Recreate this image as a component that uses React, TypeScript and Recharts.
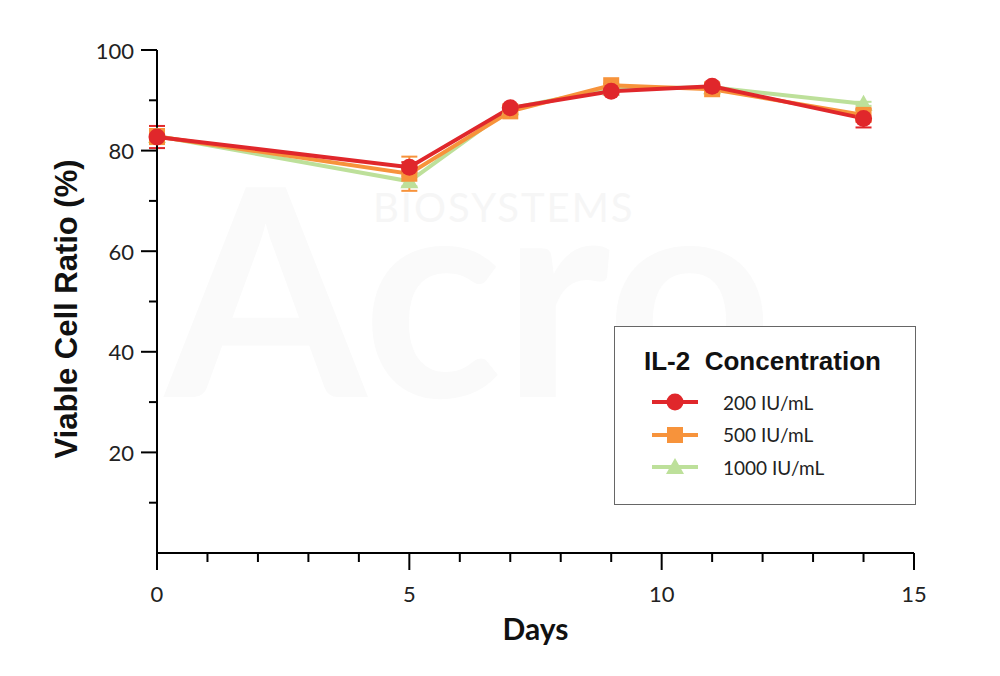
import { LineChart, Line, XAxis, YAxis, ErrorBar } from 'recharts';

const days = [0, 5, 7, 9, 11, 14];
const il200 = [82.7, 76.7, 88.5, 91.8, 92.8, 86.4];
const il200Err = [2.2, 1.0, 0.3, 0.3, 0.3, 1.8];
const il500 = [82.8, 75.4, 87.8, 93.0, 92.2, 87.1];
const il500Err = [1.5, 3.4, 0.3, 0.3, 0.3, 1.0];
const il1000 = [82.9, 73.9, 88.4, 92.3, 92.6, 89.3];
const il1000Err = [0.5, 1.0, 0.3, 0.3, 0.3, 0.4];

const xTicks = [0, 1, 2, 3, 4, 5, 6, 7, 8, 9, 10, 11, 12, 13, 14, 15];
const yTicks = [0, 10, 20, 30, 40, 50, 60, 70, 80, 90, 100];

const RED = '#e0272b';
const ORANGE = '#f7933b';
const GREEN = '#bde09a';

const data = days.map((d, i) => ({
  day: d,
  a: il200[i], aErr: il200Err[i],
  b: il500[i], bErr: il500Err[i],
  c: il1000[i], cErr: il1000Err[i],
}));

const series = [
  { name: '200 IU/mL', color: RED, shape: 'circle' },
  { name: '500 IU/mL', color: ORANGE, shape: 'square' },
  { name: '1000 IU/mL', color: GREEN, shape: 'triangle' },
];

function Marker({ cx, cy, shape, color }: any) {
  if (shape === 'circle') return <circle cx={cx} cy={cy} r={8.5} fill={color} />;
  if (shape === 'square') return <rect x={cx - 8} y={cy - 8} width={16} height={16} fill={color} />;
  return <polygon points={`${cx},${cy - 9} ${cx + 9},${cy + 7} ${cx - 9},${cy + 7}`} fill={color} />;
}

const dotFor = (shape: string, color: string) => (p: any) => (
  <Marker key={`${shape}-${p.index}`} cx={p.cx} cy={p.cy} shape={shape} color={color} />
);

const XTick = ({ x, y, payload }: any) => {
  const major = payload.value % 5 === 0;
  return (
    <g>
      <line x1={x} x2={x} y1={y} y2={y + (major ? 17 : 9)} stroke="#000" strokeWidth={2} />
      {major && (
        <text x={x} y={y + 40} textAnchor="middle" dominantBaseline="central" fontSize={22} fill="#222" fontFamily="Lato">
          {payload.value}
        </text>
      )}
    </g>
  );
};

const YTick = ({ x, y, payload }: any) => {
  if (payload.value === 0) return <g />;
  const major = payload.value % 20 === 0;
  return (
    <g>
      <line x1={x} x2={x - (major ? 16 : 8)} y1={y} y2={y} stroke="#000" strokeWidth={2} />
      {major && (
        <text x={x - 23} y={y} textAnchor="end" dominantBaseline="central" fontSize={22} fill="#222" fontFamily="Lato">
          {payload.value}
        </text>
      )}
    </g>
  );
};

const LegendBox = () => (
  <div style={{ position: 'absolute', left: 614, top: 326, width: 302, height: 179, border: '1.5px solid #666', background: '#fff', fontFamily: 'Lato', boxSizing: 'border-box' }}>
    <div style={{ position: 'absolute', left: 29, top: 19, fontFamily: 'Liberation Sans', fontWeight: 700, fontSize: 26, color: '#111', whiteSpace: 'pre' }}>
      IL-2  Concentration
    </div>
    {series.map((s, i) => (
      <div key={s.name} style={{ position: 'absolute', left: 36, top: 63 + i * 32.5, display: 'flex', alignItems: 'center' }}>
        <svg width={48} height={24}>
          <line x1={1} x2={47} y1={12} y2={12} stroke={s.color} strokeWidth={4} />
          <Marker cx={24} cy={12} shape={s.shape} color={s.color} />
        </svg>
        <span style={{ marginLeft: 24, fontSize: 19, color: '#222' }}>{s.name}</span>
      </div>
    ))}
  </div>
);

export default function App() {
  return (
    <div style={{ position: 'absolute', left: 0, top: 0, width: 1000, height: 676, background: '#fff', overflow: 'hidden' }}>
      <div style={{ position: 'absolute', left: 373, top: 183, fontFamily: 'Lato', fontSize: 40, letterSpacing: 2, color: '#f6f6f6' }}>BIOSYSTEMS</div>
      <div style={{ position: 'absolute', left: 165, top: 140, fontFamily: 'Lato', fontWeight: 700, fontSize: 290, color: '#fafafa', lineHeight: 1 }}>Acro</div>
      <LineChart width={1000} height={676} data={data} margin={{ top: 50, right: 86, bottom: 23, left: 0 }} style={{ position: 'absolute', left: 0, top: 0 }}>
        <XAxis
          dataKey="day"
          type="number"
          domain={[0, 15]}
          ticks={xTicks}
          interval={0}
          height={100}
          tickLine={false}
          tickSize={0}
          tickMargin={0}
          tick={<XTick />}
          axisLine={{ stroke: '#000', strokeWidth: 2 }}
          label={({ viewBox }: any) => (
            <text x={viewBox.x + viewBox.width / 2} y={628} textAnchor="middle" dominantBaseline="central" fontFamily="Lato" fontWeight={700} fontSize={30} fill="#111">
              Days
            </text>
          )}
        />
        <YAxis
          type="number"
          domain={[0, 100]}
          ticks={yTicks}
          interval={0}
          width={157}
          tickLine={false}
          tickSize={0}
          tickMargin={0}
          tick={<YTick />}
          axisLine={{ stroke: '#000', strokeWidth: 2 }}
          label={() => (
            <text
              x={66}
              y={309}
              transform="rotate(-90, 66, 309)"
              textAnchor="middle"
              dominantBaseline="central"
              fontFamily="Liberation Sans"
              fontWeight={700}
              fontSize={31}
              fill="#111"
            >
              Viable Cell Ratio (%)
            </text>
          )}
        />
        <Line dataKey="c" name="1000 IU/mL" stroke={GREEN} strokeWidth={4} dot={dotFor('triangle', GREEN)} activeDot={false} isAnimationActive={false}>
          <ErrorBar dataKey="cErr" direction="y" width={8} stroke={GREEN} strokeWidth={2} isAnimationActive={false} />
        </Line>
        <Line dataKey="b" name="500 IU/mL" stroke={ORANGE} strokeWidth={4} dot={dotFor('square', ORANGE)} activeDot={false} isAnimationActive={false}>
          <ErrorBar dataKey="bErr" direction="y" width={8} stroke={ORANGE} strokeWidth={2} isAnimationActive={false} />
        </Line>
        <Line dataKey="a" name="200 IU/mL" stroke={RED} strokeWidth={4} dot={dotFor('circle', RED)} activeDot={false} isAnimationActive={false}>
          <ErrorBar dataKey="aErr" direction="y" width={8} stroke={RED} strokeWidth={2} isAnimationActive={false} />
        </Line>
      </LineChart>
      <LegendBox />
    </div>
  );
}
